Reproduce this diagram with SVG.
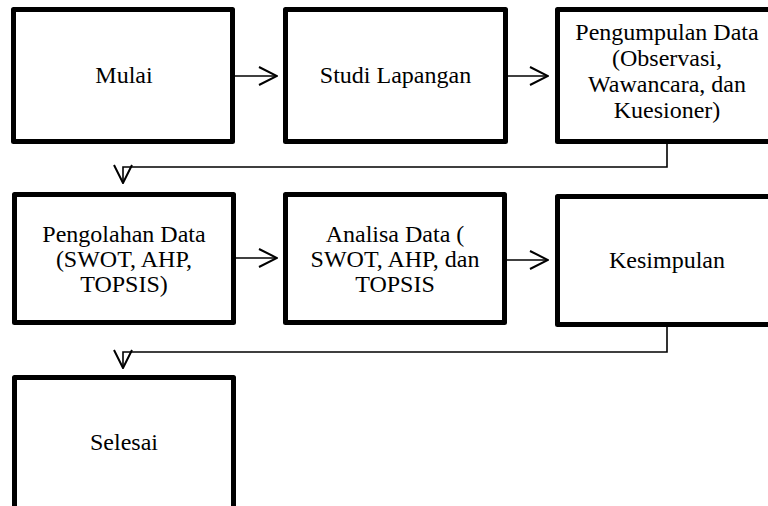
<svg xmlns="http://www.w3.org/2000/svg" width="768" height="506" viewBox="0 0 768 506">
<defs>
<style>
.box{fill:#fff;stroke:#000;stroke-width:5;stroke-linejoin:round}
.lbl{font-family:"Liberation Serif","Times New Roman",serif;font-size:24px;fill:#000;text-anchor:middle}
.con{fill:none;stroke:#000;stroke-width:1.6}
</style>
<marker id="arr" viewBox="0 0 20 20" refX="19" refY="10" markerWidth="20" markerHeight="20" markerUnits="userSpaceOnUse" orient="auto">
<path d="M1,1 L19,10 L1,19" fill="none" stroke="#000" stroke-width="2"/>
</marker>
</defs>
<rect width="768" height="506" fill="#fff"/>
<g id="connectors">
<line class="con" x1="235" y1="76" x2="277" y2="76" marker-end="url(#arr)"/>
<line class="con" x1="508" y1="76" x2="548" y2="76" marker-end="url(#arr)"/>
<polyline class="con" points="667,144 667,167 123,167 123,183" marker-end="url(#arr)"/>
<line class="con" x1="236" y1="258" x2="277" y2="258" marker-end="url(#arr)"/>
<line class="con" x1="507" y1="260" x2="548" y2="260" marker-end="url(#arr)"/>
<polyline class="con" points="667,327 667,352 123,352 123,368" marker-end="url(#arr)"/>
</g>
<g id="mulai">
<rect class="box" x="13.5" y="9.5" width="219" height="132"/>
<text class="lbl" x="124" y="83">Mulai</text>
</g>
<g id="studi">
<rect class="box" x="285.5" y="9.5" width="220" height="132"/>
<text class="lbl" x="395.5" y="83">Studi Lapangan</text>
</g>
<g id="pengumpulan">
<rect class="box" x="557.5" y="9.5" width="220" height="132"/>
<text class="lbl" x="667" y="40">Pengumpulan Data</text>
<text class="lbl" x="667" y="66">(Observasi,</text>
<text class="lbl" x="667" y="92">Wawancara, dan</text>
<text class="lbl" x="667" y="118">Kuesioner)</text>
</g>
<g id="pengolahan">
<rect class="box" x="14.5" y="194.5" width="219" height="128"/>
<text class="lbl" x="124" y="242">Pengolahan Data</text>
<text class="lbl" x="124" y="267">(SWOT, AHP,</text>
<text class="lbl" x="124" y="292">TOPSIS)</text>
</g>
<g id="analisa">
<rect class="box" x="285.5" y="194.5" width="219" height="128"/>
<text class="lbl" x="395" y="242">Analisa Data (</text>
<text class="lbl" x="395" y="267">SWOT, AHP, dan</text>
<text class="lbl" x="395" y="292">TOPSIS</text>
</g>
<g id="kesimpulan">
<rect class="box" x="557.5" y="196.5" width="220" height="128"/>
<text class="lbl" x="667" y="268">Kesimpulan</text>
</g>
<g id="selesai">
<rect class="box" x="14.5" y="377.5" width="219" height="140"/>
<text class="lbl" x="124" y="450">Selesai</text>
</g>
</svg>
